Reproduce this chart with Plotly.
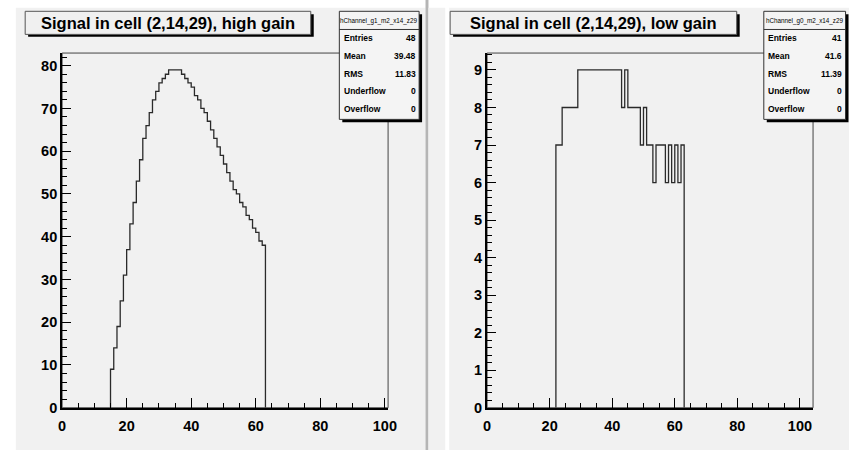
import plotly.graph_objects as go

W, H = 858, 458

# ---------------- data ----------------
hg_first_bin = 15
hg_counts = [9, 14, 19, 25, 31, 37, 43, 48, 53, 58,
             63, 66, 69, 72, 74, 76, 77, 78, 79, 79,
             79, 79, 78, 77, 76, 75, 73, 72, 70, 69,
             67, 65, 63, 61, 59, 57, 55, 53, 51, 50,
             48, 47, 45, 44, 42, 41, 39, 38]
lg_first_bin = 22
lg_counts = [7, 7, 8, 8, 8, 8, 8,
             9, 9, 9, 9, 9, 9, 9, 9, 9, 9, 9, 9, 9, 9,
             8, 9, 8, 8, 8, 8, 7, 8, 7, 7, 6, 7, 7, 7,
             6, 7, 6, 7, 6, 7]

hg_title = "Signal in cell (2,14,29), high gain"
lg_title = "Signal in cell (2,14,29), low gain"
hg_name = "hChannel_g1_m2_x14_z29"
lg_name = "hChannel_g0_m2_x14_z29"
stat_labels = ["Entries", "Mean", "RMS", "Underflow", "Overflow"]
hg_stats = ["48", "39.48", "11.83", "0", "0"]
lg_stats = ["41", "41.6", "11.39", "0", "0"]
x_ticks = [0, 20, 40, 60, 80, 100]


def px(x):
    return x / W


def py(y):
    return 1 - y / H


def outline(first, counts):
    xs = [first] + [first + i for i in range(len(counts))] + [first + len(counts)]
    ys = [0] + list(counts) + [0]
    return xs, ys


fig = go.Figure()

hx, hy = outline(hg_first_bin, hg_counts)
lx, ly = outline(lg_first_bin, lg_counts)
fig.add_trace(go.Scatter(x=hx, y=hy, mode="lines", line=dict(shape="hv", color="#2a2a2a", width=1.3),
                         xaxis="x", yaxis="y", showlegend=False, hoverinfo="skip"))
fig.add_trace(go.Scatter(x=lx, y=ly, mode="lines", line=dict(shape="hv", color="#2a2a2a", width=1.3),
                         xaxis="x2", yaxis="y2", showlegend=False, hoverinfo="skip"))

tickfont = dict(family="Liberation Sans", size=14.5, color="black", weight="bold")

# frames in pixels
LF = dict(x0=59, x1=390, y0=54, y1=415)
RF = dict(x0=490.5, x1=821.5, y0=54, y1=415)

common_x = dict(showgrid=False, zeroline=False, showline=True, linecolor="black", linewidth=2,
                ticks="inside", ticklen=10, tickwidth=1.3, tickcolor="black",
                tickvals=x_ticks, tickfont=tickfont, ticklabelstandoff=4,
                minor=dict(dtick=5, tick0=0, ticks="inside", ticklen=5, tickwidth=1.3, tickcolor="black"))
common_y = dict(showgrid=False, zeroline=False, showline=True, linecolor="black", linewidth=2,
                ticks="inside", ticklen=9, tickwidth=1.3, tickcolor="black", tickfont=tickfont)

fig.update_layout(
    width=W, height=H, margin=dict(l=0, r=0, t=0, b=0),
    paper_bgcolor="white", plot_bgcolor="rgba(0,0,0,0)",
    xaxis=dict(domain=[px(LF["x0"]), px(LF["x1"])], range=[0, 101], anchor="y", **common_x),
    yaxis=dict(domain=[py(LF["y1"]), py(LF["y0"])], range=[0, 82.95], anchor="x", dtick=10,
               minor=dict(dtick=2, ticks="inside", ticklen=4.5, tickwidth=1.3, tickcolor="black"),
               **common_y),
    xaxis2=dict(domain=[px(RF["x0"]), px(RF["x1"])], range=[0, 104.2], anchor="y2", **common_x),
    yaxis2=dict(domain=[py(RF["y1"]), py(RF["y0"])], range=[0, 9.45], anchor="x2", dtick=1,
                minor=dict(dtick=0.2, ticks="inside", ticklen=4.5, tickwidth=1.3, tickcolor="black"),
                **common_y),
)

shapes = []
annotations = []


def rect(x0, x1, y0, y1, fill=None, line=None, lw=0, layer="above"):
    shapes.append(dict(type="rect", xref="paper", yref="paper",
                       x0=px(x0), x1=px(x1), y0=py(y1), y1=py(y0),
                       fillcolor=fill if fill else "rgba(0,0,0,0)",
                       line=dict(color=line if line else "rgba(0,0,0,0)", width=lw),
                       layer=layer))


def hline(x0, x1, y, color, lw):
    shapes.append(dict(type="line", xref="paper", yref="paper",
                       x0=px(x0), x1=px(x1), y0=py(y), y1=py(y), line=dict(color=color, width=lw)))


PAD = "#f1f1f1"
# pad backgrounds
rect(12, 428, 8, 458, fill=PAD, layer="below")
rect(428, 431, 0, 458, fill="#b5b5b5", layer="below")
rect(431, 448, 8, 458, fill=PAD, layer="below")
rect(452, 858, 8, 458, fill=PAD, layer="below")

# frames
for F in (LF, RF):
    rect(F["x0"], F["x1"], F["y0"], F["y1"], line="#444444", lw=1, layer="below")


def title_box(x0, x1, y0, y1, text):
    rect(x0 + 3, x1 + 3, y0 + 3, y1 + 2.5, fill="black")
    rect(x0, x1, y0, y1, fill="#f0f0f0", line="#555555", lw=1)
    annotations.append(dict(xref="paper", yref="paper", x=px((x0 + x1) / 2), y=py((y0 + y1) / 2 + 0.5),
                            text=text, showarrow=False, xanchor="center", yanchor="middle",
                            font=dict(family="Liberation Sans", size=16.5, color="black", weight="bold")))


title_box(21.5, 311.5, 11.5, 35, hg_title)
title_box(453, 744, 11.5, 35, lg_title)

ROW_Y = [39, 57.3, 75.7, 92.5, 110.7]


def stats_box(x0, x1, name, values, lab_x, val_x):
    y0, y1 = 11.5, 121.5
    rect(x0 + 3, x1 + 3, y0 + 3, y1 + 3, fill="black")
    rect(x0, x1, y0, y1, fill="#f4f4f4", line="#333333", lw=1)
    hline(x0, x1, 30, "#333333", 1)
    annotations.append(dict(xref="paper", yref="paper", x=px((x0 + x1) / 2), y=py(21),
                            text=name, showarrow=False, xanchor="center", yanchor="middle",
                            font=dict(family="Liberation Sans", size=6.3, color="black")))
    for lab, val, yy in zip(stat_labels, values, ROW_Y):
        annotations.append(dict(xref="paper", yref="paper", x=px(lab_x), y=py(yy),
                                text=lab, showarrow=False, xanchor="left", yanchor="middle",
                                font=dict(family="Liberation Sans", size=8.5, color="black", weight="bold")))
        annotations.append(dict(xref="paper", yref="paper", x=px(val_x), y=py(yy),
                                text=val, showarrow=False, xanchor="right", yanchor="middle",
                                font=dict(family="Liberation Sans", size=8.5, color="black", weight="bold")))


stats_box(340.5, 421.5, hg_name, hg_stats, 343, 420.5)
stats_box(771.5, 854.5, lg_name, lg_stats, 774, 852.5)

fig.update_layout(shapes=shapes, annotations=annotations)
fig.write_html("out.html")
